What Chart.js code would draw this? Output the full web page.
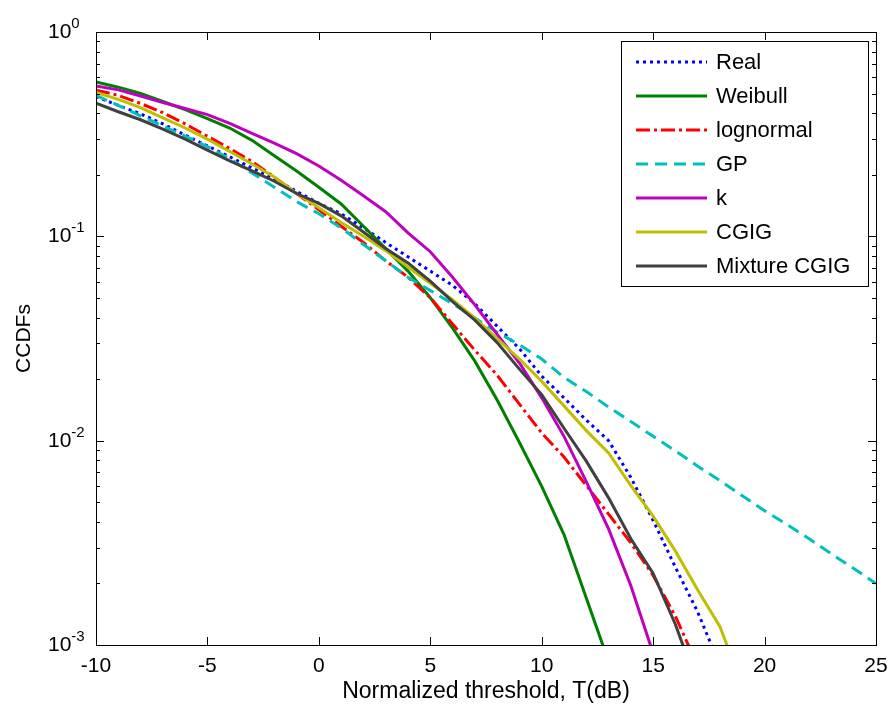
<!DOCTYPE html>
<html>
<head>
<meta charset="utf-8">
<script src="https://cdn.jsdelivr.net/npm/chart.js@4.4.1/dist/chart.umd.min.js"></script>
<style>
    html, body { margin: 0; background: #ffffff; }
    #grafico-ccdf { display: block; }
</style>
</head>
<body>
<canvas id="grafico-ccdf" width="893" height="710"></canvas>
<script>
// Normalized threshold T (dB), one point per dB
const limiarDb = [-10, -9, -8, -7, -6, -5, -4, -3, -2, -1, 0, 1, 2, 3, 4, 5, 6, 7, 8, 9, 10,
    11, 12, 13, 14, 15, 16, 17, 18, 19, 20, 21, 22, 23, 24, 25];

// CCDF values (starting at -10 dB)
const ccdfReal = [0.483, 0.437, 0.398, 0.355, 0.313, 0.277, 0.245, 0.216, 0.191, 0.166, 0.145,
    0.129, 0.110, 0.0933, 0.0794, 0.0676, 0.0575, 0.0468, 0.0363, 0.0282, 0.0207,
    0.0162, 0.0126, 0.0100, 0.0066, 0.00407, 0.0024, 0.00145, 0.00079];
const ccdfWeibull = [0.570, 0.537, 0.501, 0.457, 0.417, 0.377, 0.339, 0.295, 0.248, 0.209, 0.174,
    0.144, 0.112, 0.0871, 0.0676, 0.0501, 0.0355, 0.0245, 0.0158, 0.0098, 0.00597,
    0.00347, 0.0017, 0.00083];
const ccdfLognormal = [0.519, 0.490, 0.447, 0.403, 0.355, 0.309, 0.269, 0.232, 0.195, 0.162, 0.135,
    0.112, 0.0933, 0.0759, 0.0631, 0.0501, 0.0372, 0.0277, 0.0209, 0.0151, 0.0109,
    0.00832, 0.00603, 0.00437, 0.00316, 0.00219, 0.00138, 0.00079];
const ccdfGP = [0.490, 0.437, 0.389, 0.347, 0.309, 0.275, 0.240, 0.204, 0.174, 0.148, 0.129,
    0.110, 0.0912, 0.0759, 0.0631, 0.0543, 0.0468, 0.0398, 0.0339, 0.0295, 0.0251,
    0.0204, 0.0174, 0.0146, 0.0124, 0.0105, 0.00891, 0.0075, 0.00638, 0.00537, 0.00454,
    0.00389, 0.00331, 0.00279, 0.00237, 0.00200];
const ccdfK = [0.545, 0.521, 0.486, 0.452, 0.422, 0.394, 0.357, 0.319, 0.286, 0.254, 0.221,
    0.188, 0.158, 0.132, 0.104, 0.0841, 0.0631, 0.0462, 0.0331, 0.0240, 0.0162,
    0.0105, 0.0063, 0.0037, 0.00195, 0.00091];
const ccdfCGIG = [0.506, 0.468, 0.427, 0.380, 0.339, 0.299, 0.260, 0.226, 0.195, 0.162, 0.138,
    0.117, 0.100, 0.0851, 0.0708, 0.0589, 0.0490, 0.0398, 0.0316, 0.0251, 0.0195,
    0.0148, 0.0112, 0.0087, 0.00603, 0.00427, 0.00288, 0.00186, 0.00123, 0.00063];
const ccdfMixtureCGIG = [0.448, 0.407, 0.372, 0.335, 0.299, 0.264, 0.234, 0.209, 0.186, 0.162, 0.145,
    0.126, 0.105, 0.0871, 0.0741, 0.0603, 0.0479, 0.0389, 0.0302, 0.0224, 0.0168,
    0.0115, 0.00794, 0.00525, 0.00331, 0.00224, 0.00126, 0.00063];

const rotulosSeries = ["Real", "Weibull", "lognormal", "GP", "k", "CGIG", "Mixture CGIG"];
const ticksX = [-10, -5, 0, 5, 10, 15, 20, 25];
const decadasY = [0.001, 0.01, 0.1, 1];
const expoentesY = ["-3", "-2", "-1", "0"];

const FONTE = "'Liberation Sans', Arial, sans-serif";

function pares(valores) {
    return valores.map((v, i) => ({ x: limiarDb[i], y: v }));
}

// MATLAB style box: frame, inward ticks, superscript y labels, legend inside the axes
const molduraMatlab = {
    id: "molduraMatlab",
    afterDraw(chart) {
        const ctx = chart.ctx;
        const area = chart.chartArea;
        const sx = chart.scales.x;
        const sy = chart.scales.y;
        ctx.save();
        ctx.strokeStyle = "#000";
        ctx.lineWidth = 1;

        // ticks on all four sides
        ctx.beginPath();
        ticksX.forEach(t => {
            const px = Math.round(sx.getPixelForValue(t)) + 0.5;
            ctx.moveTo(px, area.bottom); ctx.lineTo(px, area.bottom - 8);
            ctx.moveTo(px, area.top); ctx.lineTo(px, area.top + 8);
        });
        decadasY.forEach((d, k) => {
            for (let m = 1; m <= 9; m++) {
                if (m > 1 && k === decadasY.length - 1) break;
                const py = Math.round(sy.getPixelForValue(d * m)) + 0.5;
                const len = m === 1 ? 8 : 4;
                ctx.moveTo(area.left, py); ctx.lineTo(area.left + len, py);
                ctx.moveTo(area.right, py); ctx.lineTo(area.right - len, py);
            }
        });
        ctx.stroke();
        ctx.strokeRect(Math.round(area.left) + 0.5, Math.round(area.top) + 0.5,
            Math.round(area.right - area.left), Math.round(area.bottom - area.top));

        // y tick labels 10^n
        ctx.fillStyle = "#000";
        ctx.textAlign = "left";
        ctx.textBaseline = "alphabetic";
        decadasY.forEach((d, k) => {
            const py = sy.getPixelForValue(d);
            ctx.font = "21px " + FONTE;
            ctx.fillText("10", 48, py + 6);
            const w = ctx.measureText("10").width;
            ctx.font = "15px " + FONTE;
            ctx.fillText(expoentesY[k], 48 + w, py - 4);
        });

        // legend
        const lx = area.right - 255, ly = area.top + 9, lw = 247, lh = 245;
        ctx.fillStyle = "#fff";
        ctx.fillRect(lx, ly, lw, lh);
        ctx.strokeRect(lx + 0.5, ly + 0.5, lw, lh);
        ctx.font = "22px " + FONTE;
        ctx.textBaseline = "middle";
        chart.data.datasets.forEach((ds, i) => {
            const yy = ly + 21 + i * 34;
            ctx.strokeStyle = ds.borderColor;
            ctx.lineWidth = ds.borderWidth;
            ctx.setLineDash(ds.borderDash || []);
            ctx.beginPath();
            ctx.moveTo(lx + 15, yy);
            ctx.lineTo(lx + 86, yy);
            ctx.stroke();
            ctx.setLineDash([]);
            ctx.fillStyle = "#000";
            ctx.fillText(ds.label, lx + 95, yy + 1);
        });
        ctx.restore();
    }
};

function initGraficoCcdf() {
    const canvas = document.getElementById("grafico-ccdf");
    const estilos = [
        { cor: "#0000ff", tracejado: [3, 4] },
        { cor: "#008000", tracejado: [] },
        { cor: "#ff0000", tracejado: [14, 4, 3, 4] },
        { cor: "#00bfbf", tracejado: [12, 7] },
        { cor: "#bf00bf", tracejado: [] },
        { cor: "#bfbf00", tracejado: [] },
        { cor: "#404040", tracejado: [] }
    ];
    const series = [ccdfReal, ccdfWeibull, ccdfLognormal, ccdfGP, ccdfK, ccdfCGIG, ccdfMixtureCGIG];

    new Chart(canvas.getContext("2d"), {
        type: "line",
        data: {
            datasets: series.map((valores, i) => ({
                label: rotulosSeries[i],
                data: pares(valores),
                borderColor: estilos[i].cor,
                borderDash: estilos[i].tracejado,
                borderWidth: 3,
                borderCapStyle: "butt",
                pointRadius: 0,
                tension: 0,
                fill: false,
                order: series.length - i // last series drawn on top, as in MATLAB
            }))
        },
        options: {
            responsive: false,
            animation: false,
            devicePixelRatio: 1,
            events: [],
            layout: { padding: { left: 0, right: 17, top: 32, bottom: 0 } },
            plugins: { legend: { display: false }, tooltip: { enabled: false } },
            scales: {
                x: {
                    type: "linear",
                    min: -10,
                    max: 25,
                    grid: { display: false, drawTicks: false },
                    border: { display: false },
                    ticks: {
                        stepSize: 5,
                        autoSkip: false,
                        maxRotation: 0,
                        padding: 9,
                        color: "#000",
                        font: { family: FONTE, size: 21 }
                    },
                    title: {
                        display: true,
                        text: "Normalized threshold, T(dB)",
                        color: "#000",
                        font: { family: FONTE, size: 23 },
                        padding: { top: 4, bottom: 5 }
                    },
                    afterFit: scale => {
                        scale.height = 65;
                        // keep the plot box fixed, labels may overflow the margins
                        scale.paddingLeft = 0;
                        scale.paddingRight = 0;
                    }
                },
                y: {
                    type: "logarithmic",
                    min: 0.001,
                    max: 1,
                    grid: { display: false, drawTicks: false },
                    border: { display: false },
                    ticks: { display: false },
                    title: {
                        display: true,
                        text: "CCDFs",
                        color: "#000",
                        font: { family: FONTE, size: 21 },
                        padding: { top: 12, bottom: 4 }
                    },
                    afterFit: scale => { scale.width = 96; }
                }
            }
        },
        plugins: [molduraMatlab]
    });
}

initGraficoCcdf();
</script>
</body>
</html>
